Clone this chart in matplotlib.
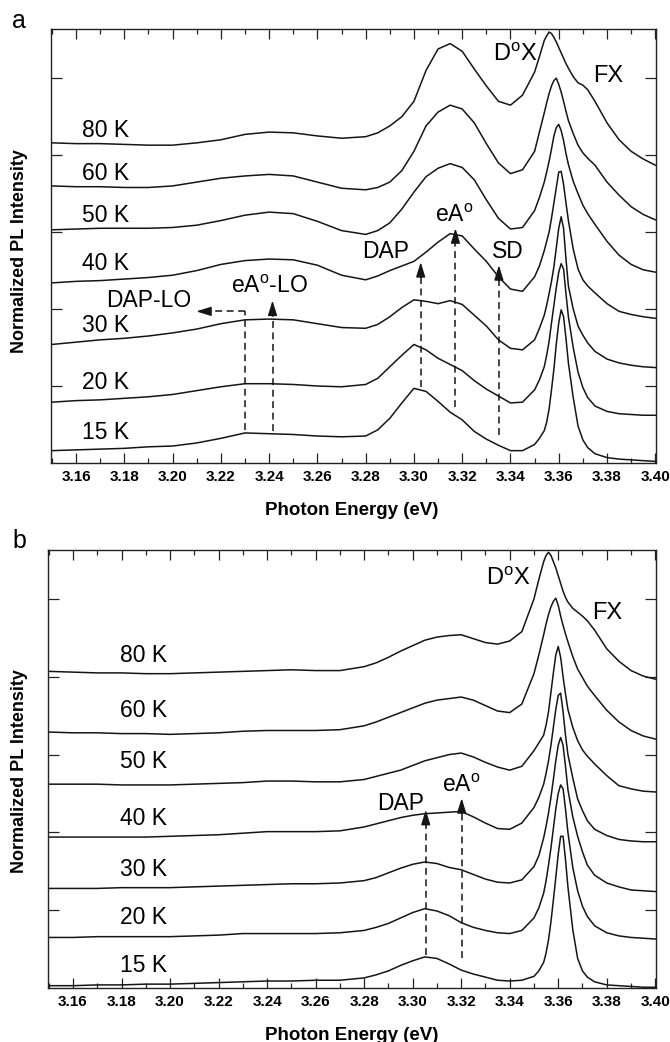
import numpy as np
import matplotlib.pyplot as plt
from matplotlib.ticker import MultipleLocator, FormatStrFormatter

plt.rcParams['font.family'] = ['Liberation Sans', 'DejaVu Sans']
plt.rcParams['mathtext.fontset'] = 'custom'
plt.rcParams['mathtext.rm'] = 'Liberation Sans'
plt.rcParams['mathtext.it'] = 'Liberation Sans:italic'

# photon energy grid (eV), shared by all spectra
energy = [3.150, 3.160, 3.170, 3.180, 3.190, 3.200, 3.210, 3.220, 3.230, 3.240,
          3.250, 3.260, 3.270, 3.280, 3.285, 3.290, 3.295, 3.300, 3.305, 3.310,
          3.315, 3.320, 3.325, 3.330, 3.335, 3.340, 3.345, 3.350, 3.352, 3.354,
          3.355, 3.356, 3.357, 3.358, 3.359, 3.360, 3.361, 3.362, 3.363, 3.364,
          3.366, 3.368, 3.370, 3.372, 3.375, 3.380, 3.385, 3.390, 3.395, 3.400]

temps = ['80 K', '60 K', '50 K', '40 K', '30 K', '20 K', '15 K']

# panel a, normalized PL (vertically offset)
a_80K = [4.16, 4.15, 4.15, 4.14, 4.13, 4.13, 4.16, 4.20, 4.27, 4.30,
         4.29, 4.25, 4.22, 4.24, 4.29, 4.38, 4.50, 4.70, 5.10, 5.38,
         5.45, 5.35, 5.12, 4.90, 4.70, 4.65, 4.78, 5.08, 5.28, 5.49,
         5.55, 5.60, 5.58, 5.53, 5.47, 5.40, 5.33, 5.26, 5.19, 5.13,
         5.02, 4.94, 4.91, 4.85, 4.70, 4.42, 4.20, 4.05, 3.95, 3.87]
a_60K = [3.60, 3.59, 3.59, 3.58, 3.58, 3.60, 3.65, 3.70, 3.73, 3.75,
         3.73, 3.65, 3.57, 3.55, 3.58, 3.65, 3.80, 4.05, 4.38, 4.56,
         4.65, 4.60, 4.42, 4.15, 3.90, 3.76, 3.81, 4.05, 4.30, 4.55,
         4.68, 4.80, 4.90, 4.97, 5.00, 4.92, 4.82, 4.70, 4.57, 4.45,
         4.28, 4.13, 4.03, 3.96, 3.87, 3.65, 3.48, 3.33, 3.23, 3.16]
a_50K = [3.03, 3.04, 3.05, 3.05, 3.05, 3.06, 3.09, 3.15, 3.22, 3.26,
         3.24, 3.14, 3.02, 2.97, 3.02, 3.12, 3.30, 3.52, 3.72, 3.83,
         3.89, 3.84, 3.68, 3.42, 3.18, 3.04, 3.06, 3.28, 3.45, 3.65,
         3.78, 3.92, 4.08, 4.25, 4.36, 4.40, 4.32, 4.19, 4.02, 3.88,
         3.66, 3.50, 3.35, 3.24, 3.10, 2.88, 2.70, 2.58, 2.51, 2.48]
a_40K = [2.34, 2.36, 2.37, 2.39, 2.41, 2.44, 2.50, 2.58, 2.63, 2.65,
         2.64, 2.57, 2.44, 2.38, 2.43, 2.50, 2.56, 2.62, 2.74, 2.87,
         2.98, 2.95, 2.78, 2.62, 2.42, 2.26, 2.23, 2.42, 2.56, 2.76,
         2.88, 3.00, 3.18, 3.38, 3.58, 3.78, 3.79, 3.62, 3.38, 3.15,
         2.78, 2.52, 2.38, 2.30, 2.21, 2.07, 1.97, 1.93, 1.90, 1.88]
a_30K = [1.54, 1.57, 1.60, 1.62, 1.65, 1.69, 1.74, 1.81, 1.86, 1.87,
         1.86, 1.81, 1.76, 1.75, 1.80, 1.90, 2.02, 2.12, 2.10, 2.07,
         2.11, 2.06, 1.92, 1.78, 1.60, 1.49, 1.47, 1.60, 1.75, 1.92,
         2.05, 2.20, 2.36, 2.55, 2.80, 3.05, 3.20, 3.05, 2.65, 2.30,
         2.00, 1.78, 1.66, 1.56, 1.45, 1.35, 1.30, 1.27, 1.25, 1.24]
a_20K = [0.79, 0.81, 0.82, 0.84, 0.86, 0.89, 0.94, 0.99, 1.03, 1.03,
         1.02, 1.00, 0.99, 1.02, 1.10, 1.25, 1.40, 1.54, 1.47, 1.36,
         1.28, 1.20, 1.07, 0.96, 0.87, 0.78, 0.79, 0.95, 1.08, 1.25,
         1.40, 1.58, 1.82, 2.05, 2.28, 2.48, 2.59, 2.52, 2.20, 1.90,
         1.50, 1.18, 0.98, 0.85, 0.74, 0.67, 0.64, 0.63, 0.62, 0.62]
a_15K = [0.16, 0.17, 0.18, 0.19, 0.21, 0.22, 0.26, 0.32, 0.39, 0.38,
         0.37, 0.35, 0.34, 0.35, 0.43, 0.58, 0.78, 0.97, 0.93, 0.80,
         0.66, 0.56, 0.41, 0.31, 0.23, 0.16, 0.16, 0.24, 0.32, 0.42,
         0.53, 0.70, 0.95, 1.22, 1.55, 1.82, 1.99, 1.90, 1.62, 1.30,
         0.85, 0.48, 0.30, 0.20, 0.12, 0.07, 0.05, 0.04, 0.03, 0.02]

# panel b
b_80K = [4.07, 4.06, 4.05, 4.05, 4.04, 4.04, 4.05, 4.06, 4.07, 4.08,
         4.09, 4.08, 4.08, 4.13, 4.18, 4.25, 4.33, 4.40, 4.47, 4.51,
         4.53, 4.54, 4.49, 4.44, 4.42, 4.46, 4.58, 5.00, 5.25, 5.48,
         5.56, 5.60, 5.56, 5.48, 5.40, 5.30, 5.20, 5.10, 5.02, 4.96,
         4.88, 4.83, 4.78, 4.72, 4.60, 4.36, 4.20, 4.08, 4.01, 3.97]
b_60K = [3.29, 3.28, 3.28, 3.27, 3.27, 3.26, 3.27, 3.28, 3.30, 3.31,
         3.31, 3.31, 3.32, 3.37, 3.42, 3.48, 3.54, 3.60, 3.66, 3.70,
         3.72, 3.74, 3.70, 3.63, 3.56, 3.54, 3.65, 4.04, 4.28, 4.54,
         4.68, 4.80, 4.90, 4.97, 5.01, 4.92, 4.78, 4.66, 4.55, 4.45,
         4.26, 4.10, 3.99, 3.88, 3.76, 3.57, 3.42, 3.31, 3.24, 3.20]
b_50K = [2.62, 2.62, 2.62, 2.61, 2.61, 2.61, 2.62, 2.63, 2.64, 2.66,
         2.66, 2.65, 2.65, 2.68, 2.72, 2.76, 2.80, 2.86, 2.92, 2.96,
         3.00, 3.02, 2.97, 2.90, 2.84, 2.80, 2.85, 3.05, 3.15, 3.25,
         3.38, 3.55, 3.80, 4.05, 4.28, 4.39, 4.25, 4.00, 3.78, 3.58,
         3.35, 3.18, 3.06, 2.98, 2.88, 2.73, 2.60, 2.56, 2.53, 2.52]
b_40K = [1.94, 1.94, 1.94, 1.94, 1.94, 1.95, 1.96, 1.97, 1.99, 2.01,
         2.01, 2.01, 2.02, 2.07, 2.11, 2.15, 2.19, 2.22, 2.24, 2.25,
         2.26, 2.27, 2.20, 2.12, 2.05, 2.04, 2.12, 2.32, 2.45, 2.62,
         2.76, 2.92, 3.12, 3.35, 3.58, 3.76, 3.79, 3.55, 3.25, 3.00,
         2.70, 2.43, 2.28, 2.15, 2.04, 1.96, 1.91, 1.89, 1.88, 1.88]
b_30K = [1.28, 1.28, 1.28, 1.29, 1.29, 1.29, 1.30, 1.31, 1.32, 1.33,
         1.34, 1.34, 1.35, 1.38, 1.42, 1.48, 1.54, 1.59, 1.62, 1.60,
         1.55, 1.52, 1.46, 1.40, 1.36, 1.35, 1.39, 1.56, 1.70, 1.93,
         2.08, 2.25, 2.45, 2.68, 2.92, 3.12, 3.22, 3.12, 2.85, 2.55,
         2.20, 1.95, 1.75, 1.58, 1.45, 1.35, 1.30, 1.26, 1.25, 1.24]
b_20K = [0.65, 0.65, 0.66, 0.66, 0.66, 0.66, 0.67, 0.68, 0.70, 0.70,
         0.70, 0.70, 0.71, 0.74, 0.78, 0.83, 0.90, 0.97, 1.02, 0.99,
         0.93, 0.84, 0.78, 0.74, 0.71, 0.70, 0.74, 0.90, 1.03, 1.22,
         1.38, 1.58, 1.80, 2.05, 2.30, 2.50, 2.61, 2.56, 2.30, 2.00,
         1.55, 1.25, 1.05, 0.92, 0.80, 0.71, 0.67, 0.65, 0.64, 0.63]
b_15K = [0.03, 0.03, 0.04, 0.04, 0.05, 0.05, 0.06, 0.07, 0.08, 0.09,
         0.09, 0.10, 0.10, 0.13, 0.17, 0.22, 0.29, 0.35, 0.40, 0.38,
         0.31, 0.23, 0.18, 0.14, 0.10, 0.09, 0.10, 0.15, 0.22, 0.33,
         0.45, 0.62, 0.85, 1.13, 1.42, 1.72, 1.95, 1.95, 1.65, 1.30,
         0.75, 0.38, 0.22, 0.14, 0.08, 0.04, 0.03, 0.02, 0.01, 0.01]

spectra_a = [a_80K, a_60K, a_50K, a_40K, a_30K, a_20K, a_15K]
spectra_b = [b_80K, b_60K, b_50K, b_40K, b_30K, b_20K, b_15K]

LINE = '#151515'
DASH = (0, (4.5, 3))


def style_axes(ax):
    ax.set_xlim(3.1495, 3.4003)
    ax.set_ylim(0, 5.64)
    ax.xaxis.set_major_locator(MultipleLocator(0.02))
    ax.xaxis.set_minor_locator(MultipleLocator(0.01))
    ax.xaxis.set_major_formatter(FormatStrFormatter('%.2f'))
    ax.set_yticks([1, 2, 3, 4, 5])
    ax.tick_params(which='both', direction='in', top=True, right=True,
                   labelleft=False, width=0.9, color='#222222')
    ax.tick_params(axis='x', which='major', length=7, pad=5, labelsize=11)
    ax.tick_params(axis='x', which='minor', length=3.6)
    ax.tick_params(axis='y', which='major', length=8)
    for lab in ax.get_xticklabels():
        lab.set_fontweight('bold')
    for sp in ax.spines.values():
        sp.set_linewidth(1.0)
        sp.set_color('#222222')


def up_arrow(ax, x, y0, y1):
    ax.plot([x, x], [y0, y1 - 0.12], color=LINE, lw=1.1, ls=DASH)
    ax.annotate('', xy=(x, y1), xytext=(x, y1 - 0.2),
                arrowprops=dict(arrowstyle='-|>,head_length=0.9,head_width=0.28',
                                color=LINE, lw=1.0, shrinkA=0, shrinkB=0))


def left_arrow(ax, x0, x1, y):
    ax.plot([x0, x1 + 0.0035], [y, y], color=LINE, lw=1.1, ls=DASH)
    ax.annotate('', xy=(x1, y), xytext=(x1 + 0.006, y),
                arrowprops=dict(arrowstyle='-|>,head_length=0.9,head_width=0.28',
                                color=LINE, lw=1.0, shrinkA=0, shrinkB=0))


fig = plt.figure(figsize=(6.7, 10.42), dpi=100)
ax_a = fig.add_axes([0.0757, 0.5557, 0.9034, 0.4165])
ax_b = fig.add_axes([0.0709, 0.0518, 0.9082, 0.4204])

# ---- panel a
for y in spectra_a:
    ax_a.plot(energy, y, color=LINE, lw=1.1)
style_axes(ax_a)
for t, ly in zip(temps, [4.23, 3.68, 3.13, 2.51, 1.70, 0.96, 0.31]):
    ax_a.text(3.1625, ly, t, fontsize=16.5, va='baseline')

ax_a.text(3.3327, 5.23, r'D$^{\mathrm{o}}$X', fontsize=17, va='baseline')
ax_a.text(3.3742, 4.95, 'FX', fontsize=17, va='baseline')
ax_a.text(3.3086, 3.13, r'eA$^{\mathrm{o}}$', fontsize=16.5, va='baseline')
ax_a.text(3.2787, 2.66, 'DAP', fontsize=16.5, va='baseline')
ax_a.text(3.3323, 2.66, 'SD', fontsize=16.5, va='baseline')
ax_a.text(3.1725, 2.03, 'DAP-LO', fontsize=16.5, va='baseline')
ax_a.text(3.2243, 2.21, r'eA$^{\mathrm{o}}$-LO', fontsize=16.5, va='baseline')

up_arrow(ax_a, 3.2414, 0.41, 2.11)
ax_a.plot([3.2298, 3.2298], [0.43, 1.97], color=LINE, lw=1.1, ls=DASH)
left_arrow(ax_a, 3.2298, 3.2098, 1.97)
up_arrow(ax_a, 3.3028, 0.99, 2.61)
up_arrow(ax_a, 3.3172, 0.73, 3.05)
up_arrow(ax_a, 3.3352, 0.36, 2.57)

# ---- panel b
for y in spectra_b:
    ax_b.plot(energy, y, color=LINE, lw=1.1)
style_axes(ax_b)
ax_b.set_ylim(0, 5.63)
for t, ly in zip(temps, [4.19, 3.48, 2.83, 2.09, 1.44, 0.82, 0.21]):
    ax_b.text(3.1793, ly, t, fontsize=16.5, va='baseline')

ax_b.text(3.3303, 5.18, r'D$^{\mathrm{o}}$X', fontsize=17, va='baseline')
ax_b.text(3.3741, 4.74, 'FX', fontsize=17, va='baseline')
ax_b.text(3.2853, 2.29, 'DAP', fontsize=16.5, va='baseline')
ax_b.text(3.3121, 2.52, r'eA$^{\mathrm{o}}$', fontsize=16.5, va='baseline')

up_arrow(ax_b, 3.3054, 0.42, 2.29)
up_arrow(ax_b, 3.3202, 0.39, 2.44)

# labels
fig.text(19 / 670, 1 - 28 / 1042, 'a', fontsize=18, va='baseline', ha='center')
fig.text(19 / 670, 1 - 548 / 1042, 'b', fontsize=18, va='baseline', ha='center')
for yc in [251, 771]:
    fig.text(20 / 670, 1 - yc / 1042, 'Normalized PL Intensity', rotation=90,
             fontsize=13, fontweight='bold', ha='center', va='center')
for yb in [515, 1040]:
    fig.text(352 / 670, 1 - yb / 1042, 'Photon Energy (eV)', fontsize=13.5,
             fontweight='bold', ha='center', va='baseline')

fig.savefig('out.png', dpi=100)
